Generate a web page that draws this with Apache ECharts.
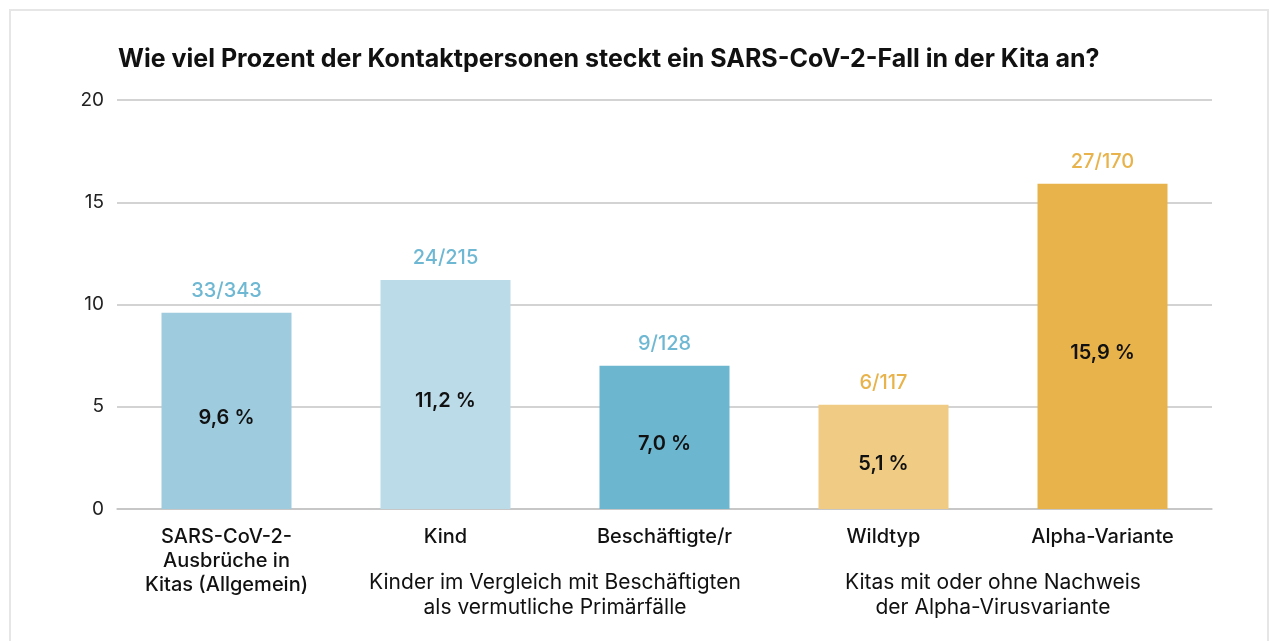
<!DOCTYPE html>
<html>
<head>
<meta charset="utf-8">
<script src="https://cdn.jsdelivr.net/npm/echarts@6/dist/echarts.min.js"></script>
<style>
  html, body { margin: 0; padding: 0; background: #fff; }
  #main { width: 1270px; height: 641px; }
</style>
</head>
<body>
<div id="main"></div>
<script>
// Daten
var categories = ['SARS-CoV-2-\nAusbrüche in\nKitas (Allgemein)', 'Kind', 'Beschäftigte/r', 'Wildtyp', 'Alpha-Variante'];
var percentValues = [9.6, 11.2, 7.0, 5.1, 15.9];
var fractions = ['33/343', '24/215', '9/128', '6/117', '27/170'];
var barColors = ['#9ecbde', '#bcdbe8', '#6cb6cf', '#efcb83', '#e8b34a'];
var fractionColors = ['#6fb8d3', '#6fb8d3', '#6fb8d3', '#e8b34a', '#e8b34a'];
var yTicks = [0, 5, 10, 15, 20];
var groupLabels = [
    { text: 'Kinder im Vergleich mit Beschäftigten\nals vermutliche Primärfälle', from: 1, to: 2 },
    { text: 'Kitas mit oder ohne Nachweis\nder Alpha-Virusvariante', from: 3, to: 4 }
];

var fontFamily = 'Inter, Lato, sans-serif';
var myChart = echarts.init(document.getElementById('main'));

var option = {
    backgroundColor: '#fff',
    animation: false,
    title: {
        text: 'Wie viel Prozent der Kontaktpersonen steckt ein SARS-CoV-2-Fall in der Kita an?',
        left: 113,
        top: 42,
        textStyle: { fontFamily: fontFamily, fontSize: 25, fontWeight: 700, color: '#111' }
    },
    grid: { left: 117, right: 58, top: 100, bottom: 132 },
    xAxis: {
        type: 'category',
        data: categories,
        axisLine: { lineStyle: { color: '#c4c4c4', width: 1.5 } },
        axisTick: { show: false },
        axisLabel: {
            margin: 16,
            fontFamily: fontFamily,
            fontSize: 20,
            fontWeight: 500,
            color: '#111',
            lineHeight: 24,
            interval: 0
        }
    },
    yAxis: {
        type: 'value',
        min: yTicks[0],
        max: yTicks[yTicks.length - 1],
        interval: 5,
        axisLine: { show: false },
        axisTick: { show: false },
        axisLabel: { margin: 13, fontFamily: fontFamily, fontSize: 19, color: '#222' },
        splitLine: { lineStyle: { color: '#c4c4c4', width: 1.5 } }
    },
    series: [
        {
            type: 'bar',
            barWidth: 130,
            data: percentValues.map(function (v, i) {
                return { value: v, itemStyle: { color: barColors[i] } };
            }),
            label: {
                show: true,
                position: 'inside',
                offset: [0, 7],
                fontFamily: fontFamily,
                fontSize: 20,
                fontWeight: 600,
                color: '#111',
                formatter: function (p) { return p.value.toFixed(1).replace('.', ',') + ' %'; }
            }
        },
        {
            type: 'bar',
            barWidth: 130,
            barGap: '-100%',
            silent: true,
            itemStyle: { color: 'transparent' },
            data: percentValues.map(function (v, i) {
                return {
                    value: v,
                    label: { color: fractionColors[i] }
                };
            }),
            label: {
                show: true,
                position: 'top',
                distance: 12,
                fontFamily: fontFamily,
                fontSize: 20,
                fontWeight: 500,
                formatter: function (p) { return fractions[p.dataIndex]; }
            }
        }
    ]
};
myChart.setOption(option);

// Rahmen und Gruppenbeschriftungen
var graphics = [{
    type: 'rect',
    shape: { x: 10, y: 10, width: 1258, height: 700 },
    style: { fill: 'none', stroke: '#e6e6e6', lineWidth: 2 },
    z: -1
}];
groupLabels.forEach(function (g) {
    var x1 = myChart.convertToPixel({ xAxisIndex: 0 }, g.from);
    var x2 = myChart.convertToPixel({ xAxisIndex: 0 }, g.to);
    graphics.push({
        type: 'text',
        x: (x1 + x2) / 2,
        y: 570,
        style: {
            text: g.text,
            textAlign: 'center',
            fontFamily: fontFamily,
            fontSize: 21,
            lineHeight: 25,
            fill: '#111'
        }
    });
});
myChart.setOption({ graphic: graphics });
</script>
</body>
</html>
